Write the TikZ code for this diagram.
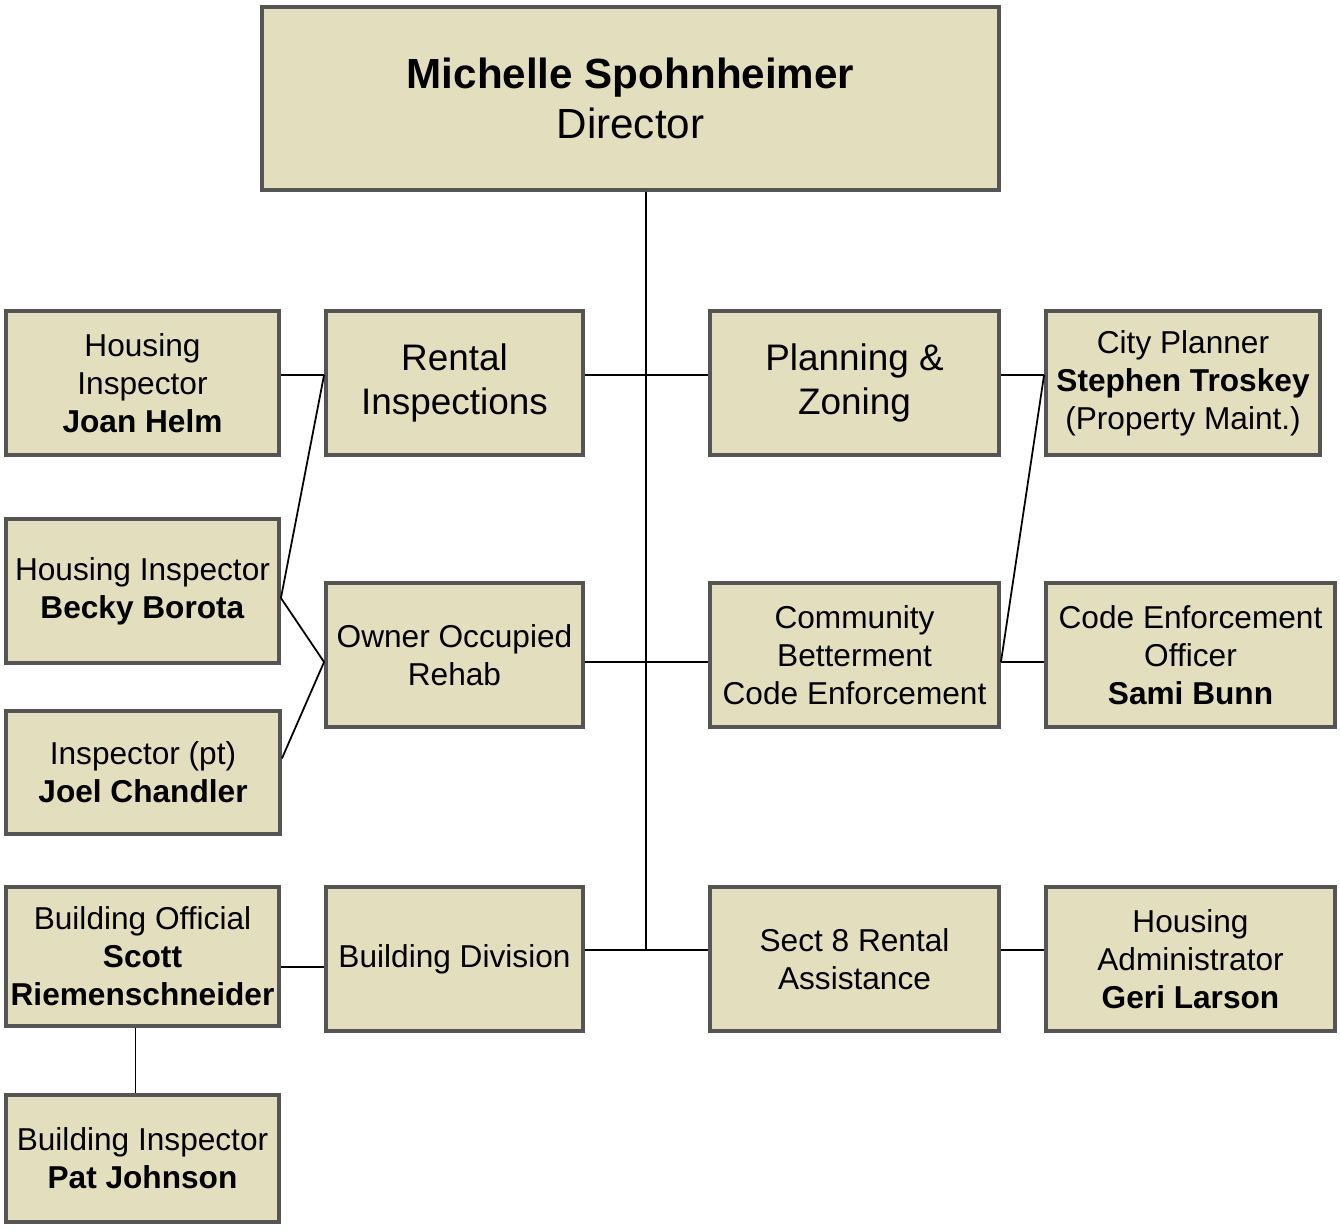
\documentclass[tikz,border=0pt]{standalone}
\usepackage{fontspec}
\setmainfont{Liberation Sans}
\usetikzlibrary{positioning}
\definecolor{boxfill}{HTML}{E3DFBE}
\definecolor{boxline}{HTML}{555555}
\tikzset{font=\fontsize{18}{21.6}\selectfont}
\tikzset{box/.style={draw=boxline, line width=2.2pt, fill=boxfill, align=center,
    inner sep=0pt, minimum height=2.88cm}}
\tikzset{link/.style={line width=1pt}}

\begin{document}
\begin{tikzpicture}
  \useasboundingbox (0,0) rectangle (26.8,-24.58);

  \node[box, minimum width=14.74cm, minimum height=3.66cm,
        font=\fontsize{24}{28.8}\selectfont] (dir) at (12.61,-1.97)
        {\textbf{Michelle Spohnheimer}\\Director};

  % first row
  \node[box, minimum width=5.46cm] (joan) at (2.85,-7.66)
        {Housing\\Inspector\\\textbf{Joan Helm}};
  \node[box, minimum width=5.14cm, font=\fontsize{21}{25.2}\selectfont] (rental) at (9.09,-7.66)
        {Rental\\Inspections};
  \node[box, minimum width=5.78cm, font=\fontsize{21}{25.2}\selectfont] (plan) at (17.09,-7.66)
        {Planning \&\\Zoning};
  \node[box, minimum width=5.48cm] (city) at (23.66,-7.66)
        {City Planner\\\textbf{Stephen Troskey}\\(Property Maint.)};

  % second row
  \node[box, minimum width=5.46cm] (becky) at (2.85,-11.82)
        {Housing Inspector\\\textbf{Becky Borota}};
  \node[box, minimum width=5.14cm] (owner) at (9.09,-13.10)
        {Owner Occupied\\Rehab};
  \node[box, minimum width=5.78cm] (comm) at (17.09,-13.10)
        {Community\\Betterment\\Code Enforcement};
  \node[box, minimum width=5.78cm] (code) at (23.81,-13.10)
        {Code Enforcement\\Officer\\\textbf{Sami Bunn}};
  \node[box, minimum width=5.48cm, minimum height=2.46cm] (joel) at (2.86,-15.45)
        {Inspector (pt)\\\textbf{Joel Chandler}};

  % third row
  \node[box, minimum width=5.46cm, minimum height=2.78cm] (bofficial) at (2.85,-19.13)
        {Building Official\\\textbf{Scott}\\\textbf{Riemenschneider}};
  \node[box, minimum width=5.14cm] (bdiv) at (9.09,-19.18)
        {Building Division};
  \node[box, minimum width=5.78cm] (sect) at (17.09,-19.18)
        {Sect 8 Rental\\Assistance};
  \node[box, minimum width=5.78cm] (hadmin) at (23.81,-19.18)
        {Housing\\Administrator\\\textbf{Geri Larson}};
  \node[box, minimum width=5.46cm, minimum height=2.54cm] (pat) at (2.85,-23.17)
        {Building Inspector\\\textbf{Pat Johnson}};

  % levels of the connectors
  \coordinate (trunk) at (12.92,0);
  \coordinate (top) at (0,-7.50);
  \coordinate (mid) at (0,-13.24);
  \coordinate (low) at (0,-19.00);
  \coordinate (bld) at (0,-19.34);

  % trunk
  \draw[link] (dir.south -| trunk) -- (low -| trunk);
  \draw[link] (top -| rental.east) -- (top -| plan.west);
  \draw[link] (mid -| owner.east) -- (mid -| comm.west);
  \draw[link] (low -| bdiv.east) -- (low -| sect.west);

  % left side
  \draw[link] (top -| joan.east) -- (top -| rental.west);
  \draw[link] ([yshift=-4pt]becky.east) -- (top -| rental.west);
  \draw[link] ([yshift=-4pt]becky.east) -- (mid -| owner.west);
  \draw[link] ([yshift=8pt]joel.east) -- (mid -| owner.west);
  \draw[link] (bld -| bofficial.east) -- (bld -| bdiv.west);
  \draw[link] ([xshift=-4pt]bofficial.south) -- ([xshift=-4pt]pat.north);

  % right side
  \draw[link] (top -| plan.east) -- (top -| city.west);
  \draw[link] (mid -| comm.east) -- (mid -| code.west);
  \draw[link] (mid -| comm.east) -- (top -| city.west);
  \draw[link] (low -| sect.east) -- (low -| hadmin.west);
\end{tikzpicture}
\end{document}
